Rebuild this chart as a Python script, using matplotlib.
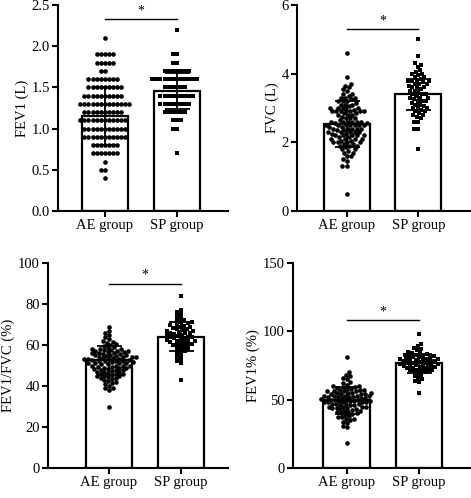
import numpy as np
import matplotlib
matplotlib.use("Agg")
import matplotlib.pyplot as plt

plt.rcParams['font.family'] = ['Liberation Serif', 'DejaVu Serif']
plt.rcParams['font.size'] = 10.5

groups = ['AE group', 'SP group']

# FEV1 (L): values are recorded to 0.1, so keep them as level / count
fev1_ae_levels = [2.1, 1.9, 1.8, 1.7, 1.6, 1.5, 1.4, 1.3, 1.2, 1.1, 1.0, 0.9, 0.8, 0.7, 0.6, 0.5, 0.4]
fev1_ae_counts = [1, 5, 5, 2, 8, 9, 10, 13, 10, 12, 11, 11, 7, 7, 1, 2, 1]
fev1_sp_levels = [2.2, 1.9, 1.8, 1.7, 1.6, 1.5, 1.4, 1.3, 1.2, 1.1, 1.0, 0.7]
fev1_sp_counts = [1, 2, 2, 7, 12, 6, 9, 8, 6, 3, 2, 1]

fvc_ae = [4.6, 3.9, 3.7, 3.65, 3.6, 3.55, 3.5, 3.4, 3.4, 3.35,
          3.3, 3.3, 3.3, 3.25, 3.2, 3.2, 3.2, 3.15, 3.1, 3.1,
          3.1, 3.05, 3.0, 3.0, 3.0, 3.0, 2.95, 2.9, 2.9, 2.9,
          2.9, 2.9, 2.85, 2.8, 2.8, 2.8, 2.75, 2.7, 2.7, 2.7,
          2.65, 2.6, 2.6, 2.6, 2.6, 2.55, 2.5, 2.5, 2.5, 2.5,
          2.5, 2.45, 2.4, 2.4, 2.4, 2.4, 2.35, 2.3, 2.3, 2.3,
          2.3, 2.25, 2.2, 2.2, 2.2, 2.2, 2.15, 2.1, 2.1, 2.1,
          2.05, 2.0, 2.0, 2.0, 1.95, 1.9, 1.9, 1.85, 1.8, 1.8,
          1.75, 1.7, 1.7, 1.6, 1.6, 1.5, 1.45, 1.3, 1.3, 0.5,
          2.95, 2.9, 2.85, 2.6, 2.55, 2.5, 2.5, 2.45, 2.4, 2.35,
          2.3, 2.25, 2.2, 2.15, 2.1, 2.05, 2.0, 1.95, 1.9, 2.6]
fvc_sp = [5.0, 4.5, 4.3, 4.25, 4.2, 4.1, 4.05, 4.0, 4.0, 3.95,
          3.9, 3.9, 3.85, 3.8, 3.8, 3.8, 3.8, 3.75, 3.7, 3.7,
          3.7, 3.65, 3.6, 3.6, 3.6, 3.55, 3.5, 3.5, 3.45, 3.4,
          3.4, 3.4, 3.35, 3.3, 3.3, 3.3, 3.25, 3.2, 3.2, 3.2,
          3.15, 3.1, 3.1, 3.05, 3.0, 3.0, 3.0, 2.95, 2.9, 2.9,
          2.85, 2.8, 2.8, 2.75, 2.7, 2.6, 2.6, 2.4, 2.4, 1.8]

ratio_ae = [69, 67, 66, 65, 64, 63, 62, 61.5, 61, 60.5,
            60, 59.5, 59, 58.5, 58, 58, 57.5, 57.5, 57, 57,
            56.5, 56.5, 56, 56, 55.5, 55.5, 55, 55, 54.5, 54.5,
            54, 54, 54, 53.5, 53.5, 53, 53, 53, 52.5, 52.5,
            52, 52, 52, 51.5, 51.5, 51, 51, 51, 50.5, 50.5,
            50, 50, 50, 49.5, 49.5, 49, 49, 48.5, 48.5, 48,
            48, 47.5, 47, 47, 46.5, 46, 46, 45.5, 45, 45,
            44.5, 44, 43.5, 43, 42.5, 42, 41.5, 41, 40, 39,
            39, 38, 30, 58, 57, 56, 55, 54, 53, 52,
            51, 50, 49, 48, 47, 46, 45, 44]
ratio_sp = [84, 77, 76, 75, 74, 73, 72, 72, 71, 71,
            70.5, 70, 70, 69.5, 69, 69, 68.5, 68, 68, 67.5,
            67, 67, 66.5, 66, 66, 65.5, 65, 65, 64.5, 64,
            64, 63.5, 63, 63, 62.5, 62, 62, 61.5, 61, 61,
            60.5, 60, 60, 59, 59, 58, 58, 57, 57, 56,
            55, 54, 53, 52, 51, 43, 66, 64, 62, 60]

fev1pct_ae = [81, 70, 68, 67, 66, 65, 63, 62, 61, 60,
              60, 59, 59, 58, 58, 57, 57, 57, 56, 56,
              56, 55, 55, 55, 55, 54, 54, 54, 53, 53,
              53, 53, 52, 52, 52, 52, 51, 51, 51, 50,
              50, 50, 50, 49, 49, 49, 49, 48, 48, 48,
              48, 47, 47, 47, 46, 46, 46, 45, 45, 45,
              44, 44, 44, 43, 43, 42, 42, 41, 41, 40,
              40, 39, 38, 37, 36, 35, 34, 33, 31, 30, 18,
              58.5, 56.5, 54.5, 52.5, 50.5, 48.5, 46.5, 44.5, 42.5, 39.5,
              37.5, 35.5]
fev1pct_sp = [98, 91, 89, 88, 87, 86, 85, 84, 84, 83,
              83, 82, 82, 82, 81, 81, 80, 80, 80, 79,
              79, 79, 78, 78, 78, 77, 77, 77, 76, 76,
              76, 75, 75, 75, 74, 74, 74, 73, 73, 72,
              72, 71, 71, 70, 70, 69, 68, 67, 66, 65,
              64, 63, 55, 83.5, 81.5, 79.5, 77.5, 75.5, 73.5, 71.5]

# bar height (mean) and error bar (SD)
fev1_mean, fev1_sd = [1.15, 1.455], [0.35, 0.22]
fvc_mean, fvc_sd = [2.53, 3.40], [0.68, 0.45]
ratio_mean, ratio_sd = [52.5, 64.0], [7.0, 7.0]
fev1pct_mean, fev1pct_sd = [49.5, 76.5], [10.0, 7.0]

W, H = 471, 498
fig = plt.figure(figsize=(W / 100, H / 100), dpi=100)


def swarm_offsets(vals, px_per_y, d):
    # simple beeswarm: place each point as close to centre as it can go
    py = np.asarray(vals, float) * px_per_y
    order = np.argsort(py)
    xs = np.zeros(len(py))
    placed = []
    for i in order:
        cands = [0.0]
        for xj, yj in placed:
            dy = abs(py[i] - yj)
            if dy < d:
                w = np.sqrt(d * d - dy * dy)
                cands += [xj - w, xj + w]
        cands.sort(key=abs)
        for c in cands:
            if all((c - xj) ** 2 + (py[i] - yj) ** 2 >= d * d - 1e-6 for xj, yj in placed):
                break
        xs[i] = c
        placed.append((c, py[i]))
    return xs


def panel(box, ae, sp, means, sds, ylim, yticks, fmt, ylabel, sig_y, xlim):
    l, t, r, b = box
    ax = fig.add_axes([l / W, 1 - b / H, (r - l) / W, (b - t) / H])
    ax.set_xlim(*xlim)
    ax.set_ylim(*ylim)
    ax_w, ax_h = r - l, b - t
    px_per_y = ax_h / (ylim[1] - ylim[0])
    px_per_x = ax_w / (xlim[1] - xlim[0])

    ax.bar([0, 1], means, width=0.64, color='white', edgecolor='black',
           linewidth=1.6, zorder=1)
    for pos, vals, mk in [(0, ae, 'o'), (1, sp, 's')]:
        off = swarm_offsets(vals, px_per_y, 4.1) / px_per_x
        ax.scatter(pos + off, vals, s=11, marker=mk, color='black',
                   linewidths=0, zorder=2)
    ax.errorbar([0, 1], means, yerr=sds, fmt='none', ecolor='black',
                elinewidth=1.3, capsize=9, capthick=1.3, zorder=3)

    ax.plot([0, 1], [sig_y, sig_y], color='black', lw=1.0, clip_on=False)
    ax.text(0.5, sig_y + (ylim[1] - ylim[0]) * 0.008, '*', ha='center',
            va='bottom', fontsize=10)

    ax.set_xticks([0, 1])
    ax.set_xticklabels(groups)
    ax.set_yticks(yticks)
    ax.set_yticklabels([fmt.format(v) for v in yticks])
    ax.set_ylabel(ylabel, labelpad=2)
    for s in ['top', 'right']:
        ax.spines[s].set_visible(False)
    for s in ['left', 'bottom']:
        ax.spines[s].set_linewidth(1.5)
    ax.tick_params(width=1.5, length=4, pad=1.8)
    return ax


fev1_ae = np.repeat(fev1_ae_levels, fev1_ae_counts)
fev1_sp = np.repeat(fev1_sp_levels, fev1_sp_counts)

panel((58, 5, 228, 211), fev1_ae, fev1_sp, fev1_mean, fev1_sd, (0, 2.5),
      [0, 0.5, 1.0, 1.5, 2.0, 2.5], '{:.1f}', 'FEV1 (L)', 2.33, (-0.65, 1.71))
panel((297, 5, 470, 211), fvc_ae, fvc_sp, fvc_mean, fvc_sd, (0, 6),
      [0, 2, 4, 6], '{:.0f}', 'FVC (L)', 5.29, (-0.69, 1.72))
panel((48, 263, 228, 468), ratio_ae, ratio_sp, ratio_mean, ratio_sd, (0, 100),
      [0, 20, 40, 60, 80, 100], '{:.0f}', 'FEV1/FVC (%)', 90, (-0.85, 1.66))
panel((293, 263, 470, 468), fev1pct_ae, fev1pct_sp, fev1pct_mean, fev1pct_sd, (0, 150),
      [0, 50, 100, 150], '{:.0f}', 'FEV1% (%)', 108, (-0.74, 1.70))

fig.savefig('out.png', dpi=100)
